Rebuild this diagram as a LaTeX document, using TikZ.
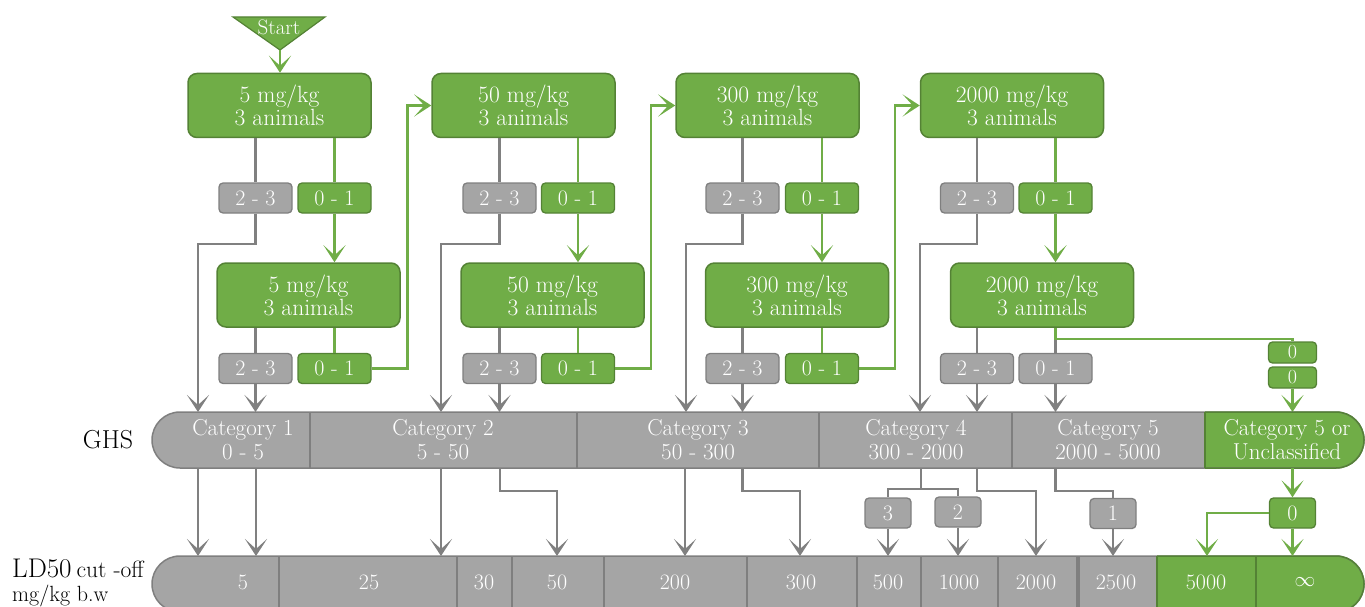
\documentclass[tikz,border=0pt]{standalone}
\usetikzlibrary{arrows.meta,calc}
\definecolor{grn}{RGB}{112,173,71}
\definecolor{grnd}{RGB}{84,130,53}
\definecolor{gry}{RGB}{165,165,165}
\definecolor{gryd}{RGB}{127,127,127}
\definecolor{lgry}{RGB}{128,128,128}
\begin{document}
\begin{tikzpicture}[x=1pt,y=-1pt,
  box/.style={rounded corners=9pt, fill=grn, draw=grnd, line width=1.5pt, text=white,
    minimum width=183pt, minimum height=64pt, align=center, inner sep=0pt,
    font=\fontsize{23.5}{23}\selectfont},
  glab/.style={rounded corners=4pt, fill=grn, draw=grnd, line width=1.3pt, text=white,
    minimum width=73pt, minimum height=30pt, inner sep=0pt, font=\fontsize{22}{22}\selectfont},
  ylab/.style={glab, fill=gry, draw=gryd},
  nlab/.style={ylab, minimum width=46pt},
  ngl/.style={glab, minimum width=46pt},
  zlab/.style={glab, minimum width=48pt, minimum height=21pt, font=\fontsize{20}{20}\selectfont},
  gline/.style={draw=lgry, line width=2.5pt},
  rline/.style={draw=grn, line width=2.5pt},
  tip/.style={-{Stealth[length=17pt,width=22pt,inset=10pt]}},
  cat/.style={text=white, align=center, inner sep=0pt, font=\fontsize{23}{24}\selectfont},
  val/.style={text=white, inner sep=0pt, font=\fontsize{22}{22}\selectfont},
  blk/.style={text=black, inner sep=0pt},
]
\useasboundingbox (0,0) rectangle (1365,607);
% ---------- coordinates
\coordinate (ghsT) at (0,412);
\coordinate (ghsB) at (0,468);
\coordinate (ldT) at (0,556);
% ---------- start
\fill[grn, draw=grnd, line width=1.2pt] (233,17) -- (325,17) -- (280,50) -- cycle;
\coordinate (apex) at (280,50);
\node[text=white, inner sep=0pt, font=\fontsize{21}{21}\selectfont] (start) at (279,27) {Start};
% ---------- boxes
\node[box] (t1) at (279.5,105.5) {5 mg/kg\\3 animals};
\node[box] (t2) at (523.5,105.5) {50 mg/kg\\3 animals};
\node[box] (t3) at (767.5,105.5) {300 mg/kg\\3 animals};
\node[box] (t4) at (1012,105.5) {2000 mg/kg\\3 animals};
\node[box] (m1) at (308.5,295) {5 mg/kg\\3 animals};
\node[box] (m2) at (552.5,295) {50 mg/kg\\3 animals};
\node[box] (m3) at (797,295) {300 mg/kg\\3 animals};
\node[box] (m4) at (1042,295) {2000 mg/kg\\3 animals};
% ---------- labels
\node[ylab] (ta1) at (255.5,198) {2 - 3};
\node[glab] (tb1) at (334.5,198) {0 - 1};
\node[ylab] (ta2) at (499.5,198) {2 - 3};
\node[glab] (tb2) at (578,198) {0 - 1};
\node[ylab] (ta3) at (742.5,198) {2 - 3};
\node[glab] (tb3) at (822,198) {0 - 1};
\node[ylab] (ta4) at (977,198) {2 - 3};
\node[glab] (tb4) at (1055.5,198) {0 - 1};
\node[ylab] (ba1) at (255.5,368.5) {2 - 3};
\node[glab] (bb1) at (334.5,368.5) {0 - 1};
\node[ylab] (ba2) at (499.5,368.5) {2 - 3};
\node[glab] (bb2) at (578,368.5) {0 - 1};
\node[ylab] (ba3) at (742.5,368.5) {2 - 3};
\node[glab] (bb3) at (822,368.5) {0 - 1};
\node[ylab] (ba4) at (977,368.5) {2 - 3};
\node[ylab] (bb4) at (1055.5,368.5) {0 - 1};
\node[zlab] (z1) at (1292.5,352.5) {0};
\node[zlab] (z2) at (1292.5,377.5) {0};
% ---------- left-down coordinates
\coordinate (k1) at (198,244);
\coordinate (k2) at (441,244);
\coordinate (k3) at (686,244);
\coordinate (k4) at (920,244);
% ---------- connectors top part
\draw[rline,tip] (apex) -- (apex |- t1.north);
\foreach \i/\j in {1/2,2/3,3/4}{
  \draw[rline,tip] (bb\i.east) -- ++(36,0) |- (t\j.west);
}
\foreach \i in {1,2,3,4}{
  \draw[gline] (t\i.south -| ta\i) -- (ta\i.north);
  \draw[rline] (t\i.south -| tb\i) -- (tb\i.north);
  \draw[rline,tip] (tb\i.south) -- (tb\i.south |- m\i.north);
  \draw[gline] (m\i.south -| ba\i) -- (ba\i.north);
  \draw[gline,tip] (ta\i.south) |- (k\i) -- (k\i |- ghsT);
  \draw[gline,tip] (ba\i.south) -- (ba\i.south |- ghsT);
}
\foreach \i in {1,2,3}{
  \draw[rline] (m\i.south -| bb\i) -- (bb\i.north);
}
\draw[gline,tip] (bb4.south) -- (bb4.south |- ghsT);
\draw[gline] (m4.south -| bb4) -- (bb4.north);
\draw[rline] (m4.south -| bb4) -- ++(0,11) coordinate (br) -| (z1.north);
\draw[rline,tip] (z2.south) -- (z2.south |- ghsT);
% ---------- GHS bar
\begin{scope}
  \clip[rounded corners=28pt] (152,412) rectangle (1364,468);
  \fill[gry] (152,412) rectangle (1205,468);
  \fill[grn] (1205,412) rectangle (1364,468);
\end{scope}
\draw[gryd, line width=1.5pt, rounded corners=28pt] (152,412) rectangle (1364,468);
\begin{scope}
  \clip (1205,400) rectangle (1370,480);
  \draw[grnd, line width=1.5pt, rounded corners=28pt] (152,412) rectangle (1364,468);
\end{scope}
\foreach \x in {310,577,819,1012}{ \draw[gryd, line width=1.5pt] (\x,412) -- (\x,468); }
\draw[grnd, line width=1.5pt] (1205,412) -- (1205,468);
\node[cat] (c1) at (243,440) {Category 1\\0 - 5};
\node[cat] (c2) at (443,440) {Category 2\\5 - 50};
\node[cat] (c3) at (698,440) {Category 3\\50 - 300};
\node[cat] (c4) at (916,440) {Category 4\\300 - 2000};
\node[cat] (c5) at (1108,440) {Category 5\\2000 - 5000};
\node[cat] (c6) at (1287,440) {Category 5 or\\Unclassified};
\node[blk, font=\fontsize{26}{26}\selectfont] (ghs) at (108,440) {GHS};
% ---------- LD50 bar
\begin{scope}
  \clip[rounded corners=28pt] (152,556) rectangle (1364,612);
  \fill[gry] (152,556) rectangle (1157,612);
  \fill[grn] (1157,556) rectangle (1364,612);
\end{scope}
\draw[gryd, line width=1.5pt, rounded corners=28pt] (152,556) rectangle (1364,612);
\begin{scope}
  \clip (1157,540) rectangle (1370,620);
  \draw[grnd, line width=1.5pt, rounded corners=28pt] (152,556) rectangle (1364,612);
\end{scope}
\foreach \x in {279,457,512,604,747,857,921,998}{ \draw[gryd, line width=1.5pt] (\x,556) -- (\x,612); }
\draw[gryd, line width=3.5pt] (1078,556) -- (1078,612);
\draw[grnd, line width=1.5pt] (1157,556) -- (1157,612);
\draw[grnd, line width=1.5pt] (1256,556) -- (1256,612);
\node[val] (v1) at (243,582) {5};
\node[val] (v2) at (369,582) {25};
\node[val] (v3) at (484,582) {30};
\node[val] (v4) at (557,582) {50};
\node[val] (v5) at (675,582) {200};
\node[val] (v6) at (801,582) {300};
\node[val] (v7) at (888,582) {500};
\node[val] (v8) at (959,582) {1000};
\node[val] (v9) at (1036,582) {2000};
\node[val] (v10) at (1116,582) {2500};
\node[val] (v11) at (1206,582) {5000};
\node[val] (v12) at (1305,582) {$\infty$};
\node[blk, anchor=base west] (ld) at (12,577) {{\fontsize{27}{27}\selectfont LD50}\hspace{5pt}{\fontsize{23.5}{23}\selectfont cut -off}};
\node[blk, anchor=base west, font=\fontsize{22}{22}\selectfont] (mg) at (12,601) {mg/kg b.w};
% ---------- middle connectors
\node[nlab] (n3) at (888,513) {3};
\node[nlab] (n2) at (958,512) {2};
\node[nlab] (n1) at (1113,513.5) {1};
\node[ngl] (n0) at (1292.5,513) {0};
\coordinate (q1) at (198,468);
\coordinate (q2) at (256,468);
\coordinate (q3) at (441,468);
\coordinate (q4) at (500,468);
\coordinate (q5) at (685,468);
\coordinate (q6) at (742.5,468);
\coordinate (q7) at (921,468);
\coordinate (q8) at (977,468);
\coordinate (q9) at (1055.5,468);
\coordinate (q10) at (1292.5,468);
\coordinate (e4) at (557,556);
\coordinate (e6) at (800,556);
\coordinate (e8) at (1036,556);
\coordinate (e0) at (1207,556);
\foreach \i in {1,2,3,5}{ \draw[gline,tip] (q\i) -- (q\i |- ldT); }
\draw[gline,tip] (q4) -- ++(0,23) -| (e4);
\draw[gline,tip] (q6) -- ++(0,23) -| (e6);
\draw[gline,tip] (q8) -- ++(0,23) -| (e8);
\draw[gline] (q7) -- ++(0,21) coordinate (bq7) -| (n3.north);
\draw[gline] (bq7) -| (n2.north);
\draw[gline] (q9) -- ++(0,23) -| (n1.north);
\foreach \n in {n3,n2,n1}{ \draw[gline,tip] (\n.south) -- (\n.south |- ldT); }
\draw[rline,tip] (n0.south) -- (n0.south |- ldT);
\draw[rline,tip] (q10) -- (n0.north);
\draw[rline,tip] (n0.west) -| (e0);
\end{tikzpicture}
\end{document}
